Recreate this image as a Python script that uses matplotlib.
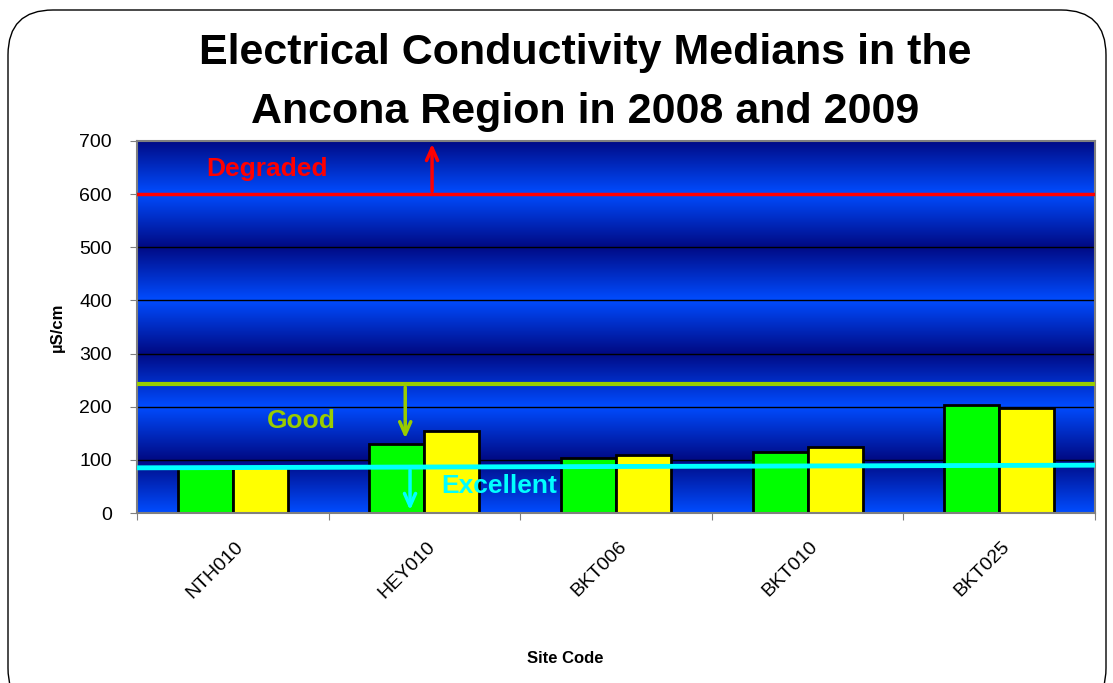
import numpy as np
import matplotlib.pyplot as plt
import matplotlib.patches as mpatches
import matplotlib.transforms as mtransforms
from matplotlib.colors import LinearSegmentedColormap

plt.rcParams['font.family'] = ['Liberation Sans', 'DejaVu Sans']

# data
sites = ['NTH010', 'HEY010', 'BKT006', 'BKT010', 'BKT025']
ec_2008 = [86, 129, 104, 115, 204]
ec_2009 = [86, 155, 109, 124, 197]

degraded_level = 600
good_level = 242
excellent_left = 85
excellent_right = 90

fig = plt.figure(figsize=(11.13, 6.83), dpi=100)
ax = fig.add_axes([0.1231, 0.2489, 0.8607, 0.5447])

x = np.arange(len(sites))
w = 0.287

# banded blue background (bright on even hundreds, dark on odd)
vals = np.linspace(0, 700, 701)
shade = np.abs((vals / 100.0) % 2 - 1)
cmap = LinearSegmentedColormap.from_list('bg', ['#000a84', '#004cff'])
ax.imshow(shade[::-1, None], extent=[-0.5, 4.5, 0, 700], aspect='auto',
          cmap=cmap, vmin=0, vmax=1, zorder=0, interpolation='bilinear')

for g in range(100, 700, 100):
    ax.axhline(g, color='black', lw=1, zorder=1)

ax.bar(x - w / 2, ec_2008, w, color='#00ff00', edgecolor='black', lw=2, zorder=2)
ax.bar(x + w / 2, ec_2009, w, color='#ffff00', edgecolor='black', lw=2, zorder=2)

ax.axhline(degraded_level, color='#ff0000', lw=2.5, zorder=3)
ax.axhline(good_level, color='#99cc00', lw=3, zorder=3)
ax.plot([-0.5, 4.5], [excellent_left, excellent_right], color='#00ffff', lw=3.5, zorder=3)

ax.annotate('', xy=(1.04, 700), xytext=(1.04, degraded_level),
            arrowprops=dict(arrowstyle='->,head_length=0.9,head_width=0.4',
                            color='#ff0000', lw=2.5), zorder=4, annotation_clip=False)
ax.annotate('', xy=(0.9, 135), xytext=(0.9, good_level),
            arrowprops=dict(arrowstyle='->,head_length=0.9,head_width=0.4',
                            color='#99cc00', lw=2.5), zorder=4)
ax.annotate('', xy=(0.925, 0), xytext=(0.925, excellent_left + 1),
            arrowprops=dict(arrowstyle='->,head_length=0.9,head_width=0.4',
                            color='#00ffff', lw=2.5), zorder=4)

ax.text(0.18, 648, 'Degraded', color='#ff0000', fontsize=19, fontweight='bold',
        ha='center', va='center', zorder=5)
ax.text(0.36, 173, 'Good', color='#99cc00', fontsize=19, fontweight='bold',
        ha='center', va='center', zorder=5)
ax.text(1.39, 50, 'Excellent', color='#00ffff', fontsize=19, fontweight='bold',
        ha='center', va='center', zorder=5)

ax.set_xlim(-0.5, 4.5)
ax.set_ylim(0, 700)
ax.set_yticks(range(0, 701, 100))
ax.tick_params(axis='y', labelsize=14, length=5, pad=13, color='#808080', direction='out')
ax.set_xticks(np.arange(-0.5, 4.6, 1))
ax.set_xticklabels([])
ax.tick_params(axis='x', length=5, color='#808080', direction='out')
for i, s in enumerate(sites):
    ax.text(i + 0.01, -47, s, rotation=45, ha='right', va='top',
            rotation_mode='anchor', fontsize=14)
for sp in ax.spines.values():
    sp.set_color('#808080')
    sp.set_linewidth(1.5)

ax.set_ylabel('µS/cm', fontsize=12, fontweight='bold', labelpad=10)
fig.text(0.508, 0.036, 'Site Code', fontsize=12, fontweight='bold', ha='center', va='center')

fig.text(0.526, 0.9063, 'Electrical Conductivity Medians in the', fontsize=31,
         fontweight='bold', ha='center', va='baseline')
fig.text(0.526, 0.8199, 'Ancona Region in 2008 and 2009', fontsize=31,
         fontweight='bold', ha='center', va='baseline')

# rounded slide frame
frame = mpatches.FancyBboxPatch((8, -30), 1098, 703,
                                boxstyle='round,pad=0,rounding_size=45',
                                fill=False, edgecolor='black', lw=1,
                                transform=mtransforms.IdentityTransform())
fig.add_artist(frame)

fig.savefig('out.png', dpi=100)
